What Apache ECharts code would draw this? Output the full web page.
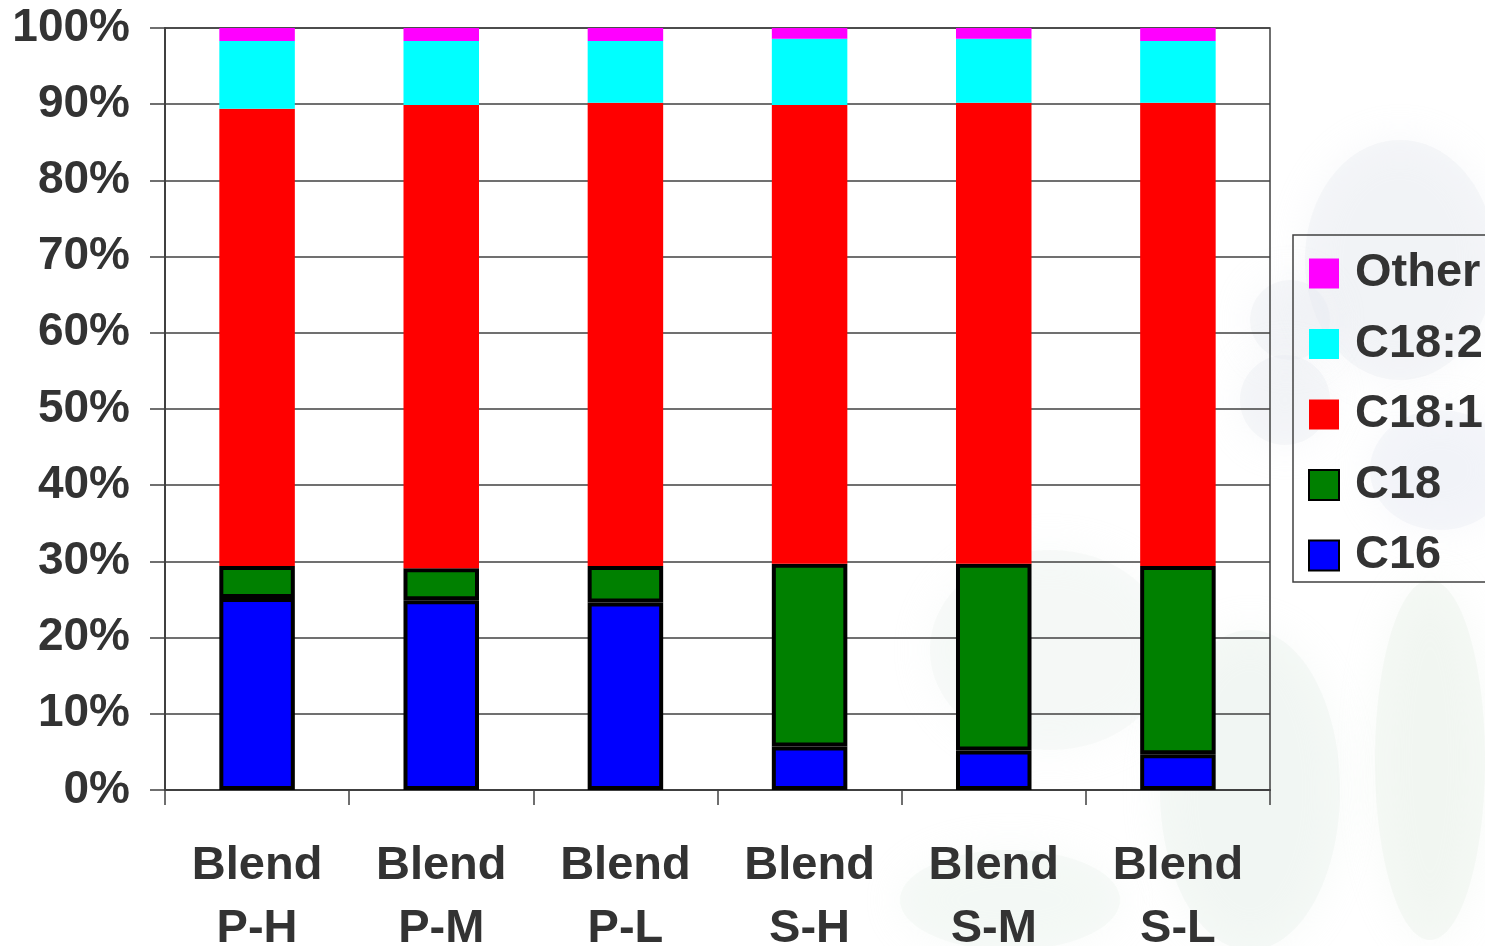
<!DOCTYPE html>
<html>
<head>
<meta charset="utf-8">
<style>
  html, body { margin: 0; padding: 0; background: #ffffff; }
  #chart { width: 1485px; height: 946px; }
</style>
<script src="https://cdn.jsdelivr.net/npm/echarts@6/dist/echarts.min.js"></script>
</head>
<body>
<div id="chart"></div>
<script>
// Fatty-acid composition of each blend, percent of total
const categories = ['Blend\nP-H', 'Blend\nP-M', 'Blend\nP-L', 'Blend\nS-H', 'Blend\nS-M', 'Blend\nS-L'];
const c16   = [25.2, 24.9, 24.6, 5.7, 5.2, 4.7];
const c18   = [4.2, 4.2, 4.8, 24.0, 24.5, 24.7];
const c18_1 = [60.0, 60.8, 60.8, 60.2, 60.5, 60.8];
const c18_2 = [8.9, 8.4, 8.1, 8.7, 8.4, 8.1];
const other = [1.7, 1.7, 1.7, 1.4, 1.4, 1.7];
const legendOrder = ['Other', 'C18:2', 'C18:1', 'C18', 'C16'];

const FONT = "'Liberation Sans', Arial, Helvetica, sans-serif";
const TEXT = '#333333';
const LINE = '#404040';

const chart = echarts.init(document.getElementById('chart'), null, { renderer: 'canvas' });

function outlined(name, data, color) {
  return {
    name, type: 'bar', stack: 'total', data, barWidth: '41%',
    itemStyle: { color, borderColor: '#000', borderWidth: 4 }
  };
}
function plain(name, data, color) {
  return {
    name, type: 'bar', stack: 'total', data, barWidth: '41%',
    itemStyle: { color, borderWidth: 0 }
  };
}

// soft background blob
function blob(type, shape, fill) {
  return {
    type, z: -10, silent: true, shape,
    style: { fill, opacity: 0.3, shadowBlur: 40, shadowColor: fill }
  };
}

chart.setOption({
  animation: false,
  backgroundColor: '#ffffff',
  textStyle: { fontFamily: FONT },
  graphic: [
    blob('ellipse', { cx: 1400, cy: 260, rx: 95, ry: 120 }, '#e4e7f0'),
    blob('circle', { cx: 1290, cy: 320, r: 40 }, '#e4e7f0'),
    blob('circle', { cx: 1285, cy: 400, r: 45 }, '#e4e7f0'),
    blob('ellipse', { cx: 1440, cy: 470, rx: 70, ry: 60 }, '#e6e9f1'),
    blob('ellipse', { cx: 1050, cy: 650, rx: 120, ry: 100 }, '#ebf2ed'),
    blob('ellipse', { cx: 1250, cy: 790, rx: 90, ry: 160 }, '#e4eee7'),
    blob('ellipse', { cx: 1010, cy: 900, rx: 110, ry: 50 }, '#e9f1eb'),
    blob('ellipse', { cx: 1430, cy: 760, rx: 55, ry: 180 }, '#e3ede6')
  ],
  grid: {
    left: 165, right: 215, top: 28, bottom: 156,
    outerBoundsMode: 'none',
    containLabel: false,
    show: true, borderColor: LINE, borderWidth: 1.5, backgroundColor: 'transparent'
  },
  legend: {
    orient: 'vertical',
    left: 1293, top: 235,
    data: legendOrder,
    itemWidth: 30, itemHeight: 30, itemGap: 23.5,
    padding: [15, 15, 3, 15],
    borderColor: LINE, borderWidth: 1.5,
    textStyle: { fontFamily: FONT, fontSize: 47, fontWeight: 'bold', color: TEXT, lineHeight: 44, padding: [0, 0, 0, 11] },
    icon: 'rect'
  },
  xAxis: {
    type: 'category',
    data: categories,
    boundaryGap: true,
    axisLine: { show: true, lineStyle: { color: LINE, width: 2 } },
    axisTick: { show: true, length: 15, lineStyle: { color: LINE, width: 1.5 } },
    axisLabel: {
      margin: 45, fontFamily: FONT, fontSize: 47, fontWeight: 'bold', color: TEXT,
      lineHeight: 63, interval: 0
    },
    splitLine: { show: false }
  },
  yAxis: {
    type: 'value',
    min: 0, max: 100, interval: 10,
    axisLine: { show: true, lineStyle: { color: LINE, width: 2 } },
    axisTick: { show: true, length: 15, lineStyle: { color: LINE, width: 1.5 } },
    axisLabel: {
      formatter: '{value}%', margin: 35,
      fontFamily: FONT, fontSize: 46, fontWeight: 'bold', color: TEXT
    },
    splitLine: { show: true, lineStyle: { color: LINE, width: 1.5 } }
  },
  series: [
    outlined('C16', c16, '#0000ff'),
    outlined('C18', c18, '#008000'),
    plain('C18:1', c18_1, '#ff0000'),
    plain('C18:2', c18_2, '#00ffff'),
    plain('Other', other, '#ff00ff')
  ]
});
</script>
</body>
</html>
